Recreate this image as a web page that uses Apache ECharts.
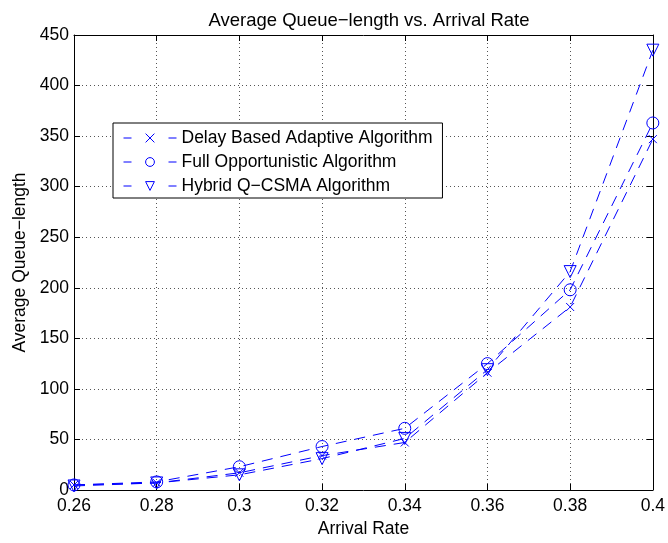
<!DOCTYPE html>
<html>
<head>
<meta charset="utf-8">
<script src="https://cdn.jsdelivr.net/npm/echarts@6/dist/echarts.min.js"></script>
<style>
html,body{margin:0;padding:0;background:#fff;}
#chart{width:668px;height:543px;}
</style>
</head>
<body>
<div id="chart"></div>
<script>
var arrivalRates = [0.26, 0.28, 0.30, 0.32, 0.34, 0.36, 0.38, 0.40];
var delayBased = [5, 7, 17, 34, 47, 116, 181, 347];
var fullOpportunistic = [5, 8, 23, 43, 61, 125, 198, 363];
var hybridQCSMA = [4, 7, 15, 31, 51, 119, 216, 435];
var seriesNames = ['Delay Based Adaptive Algorithm', 'Full Opportunistic Algorithm', 'Hybrid Q\u2212CSMA Algorithm'];

var FONT = 'Liberation Sans';
var BLUE = '#0000ff';

function pairs(xs, ys) { return xs.map(function (x, i) { return [x, ys[i]]; }); }

var chart = echarts.init(document.getElementById('chart'), null, {renderer: 'canvas'});

function mkSeries(name, data, symbol, rotate, size) {
  return {
    name: name,
    type: 'line',
    xAxisIndex: 0,
    yAxisIndex: 0,
    data: pairs(arrivalRates, data),
    symbol: symbol,
    symbolSize: size,
    symbolRotate: rotate,
    showAllSymbol: true,
    animation: false,
    lineStyle: {color: BLUE, width: 1, type: [11, 8]},
    itemStyle: {color: 'rgba(0,0,0,0)', borderColor: BLUE, borderWidth: 1}
  };
}

var splitStyle = {show: true, lineStyle: {color: '#555', width: 1, type: [1, 3]}};
var axisLineStyle = {show: true, onZero: false, lineStyle: {color: '#000', width: 1}};
var tickStyle = {show: true, inside: true, length: 6, lineStyle: {color: '#000', width: 1}};

var option = {
  backgroundColor: '#fff',
  animation: false,
  title: {
    text: 'Average Queue\u2212length vs. Arrival Rate',
    left: 364, textAlign: 'center', top: 6,
    textStyle: {fontFamily: FONT, fontSize: 18.5, fontWeight: 'normal', color: '#000'}
  },
  grid: {left: 74, right: 15, top: 35, bottom: 53, containLabel: false},
  legend: {
    orient: 'vertical',
    left: 113, top: 123,
    data: seriesNames,
    itemWidth: 53, itemHeight: 11, itemGap: 6,
    padding: [6, 10, 3, 10],
    borderColor: '#000', borderWidth: 1,
    backgroundColor: '#fff',
    itemStyle: {color: 'rgba(0,0,0,0)', borderColor: BLUE, borderWidth: 1},
    lineStyle: {type: [8, 37], color: BLUE, width: 1},
    textStyle: {fontFamily: FONT, fontSize: 17.5, color: '#000'}
  },
  xAxis: [{
    type: 'value', position: 'bottom',
    min: 0.26, max: 0.4, interval: 0.02,
    name: 'Arrival Rate', nameLocation: 'middle', nameGap: 26,
    nameTextStyle: {fontFamily: FONT, fontSize: 17.5, color: '#000'},
    axisLine: axisLineStyle, axisTick: tickStyle,
    axisLabel: {fontFamily: FONT, fontSize: 17.5, color: '#000', margin: 7,
      formatter: function (v) { return String(parseFloat(v.toFixed(2))); }},
    splitLine: splitStyle
  }, {
    type: 'value', position: 'top',
    min: 0.26, max: 0.4, interval: 0.02,
    axisLine: axisLineStyle, axisTick: tickStyle,
    axisLabel: {show: false}, splitLine: {show: false}
  }],
  yAxis: [{
    type: 'value', position: 'left',
    min: 0, max: 450, interval: 50,
    name: 'Average Queue\u2212length', nameLocation: 'middle', nameGap: 38,
    nameTextStyle: {fontFamily: FONT, fontSize: 17.5, color: '#000'},
    axisLine: axisLineStyle, axisTick: tickStyle,
    axisLabel: {fontFamily: FONT, fontSize: 17.5, color: '#000', margin: 5},
    splitLine: splitStyle
  }, {
    type: 'value', position: 'right',
    min: 0, max: 450, interval: 50,
    axisLine: axisLineStyle, axisTick: tickStyle,
    axisLabel: {show: false}, splitLine: {show: false}
  }],
  series: [
    mkSeries(seriesNames[0], delayBased, 'path://M0,0L10,10M10,0L0,10', 0, 8),
    mkSeries(seriesNames[1], fullOpportunistic, 'circle', 0, 12),
    mkSeries(seriesNames[2], hybridQCSMA, 'triangle', 180, 12)
  ]
};
chart.setOption(option);
</script>
</body>
</html>
